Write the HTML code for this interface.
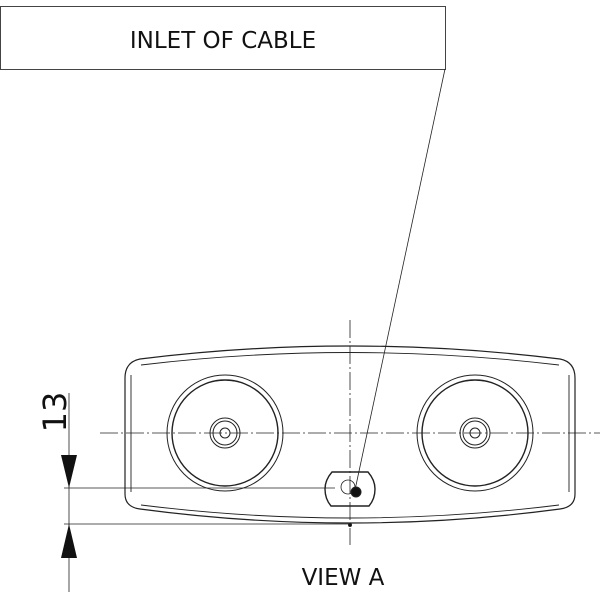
<!DOCTYPE html>
<html><head><style>body{margin:0;background:#fff}svg{display:block}</style></head><body>
<svg width="600" height="600" viewBox="0 0 600 600" xmlns="http://www.w3.org/2000/svg" fill="none" stroke="#222" font-family="'DejaVu Sans','Liberation Sans',sans-serif">
<rect x="0.5" y="6.5" width="445" height="63" stroke="#444"/>
<text x="223" y="48" font-size="23" fill="#111" stroke="none" text-anchor="middle">INLET OF CABLE</text>
<line x1="445" y1="69" x2="355" y2="490" stroke-width="0.8"/>
<!-- body outer -->
<path d="M140 359 Q350 333 560 359 Q575 362 575 378 L575 494 Q575 507 560 509 Q350 537 140 509 Q125 507 125 494 L125 378 Q125 362 140 359 Z" stroke-width="1.2"/>
<path d="M141 365 Q350 340 559 365 M141 505 Q350 531 559 505 M131 375 L131 492 M569 375 L569 492" stroke-width="0.9"/>
<!-- centerlines -->
<line x1="350" y1="320" x2="350" y2="545" stroke-width="0.8" stroke-dasharray="18 3 2 3"/>
<line x1="100" y1="433" x2="600" y2="433" stroke-width="0.8" stroke-dasharray="18 3 2 3"/>
<!-- circles -->
<g stroke-width="1">
<circle cx="225" cy="433" r="58"/><circle cx="225" cy="433" r="53" stroke-width="1.4"/>
<circle cx="225" cy="433" r="15"/><circle cx="225" cy="433" r="12"/><circle cx="225" cy="433" r="5"/>
<circle cx="475" cy="433" r="58"/><circle cx="475" cy="433" r="53" stroke-width="1.4"/>
<circle cx="475" cy="433" r="15"/><circle cx="475" cy="433" r="12"/><circle cx="475" cy="433" r="5"/>
</g>
<!-- slot -->
<path d="M332 472 L368 472 Q375 480 375 489 Q375 499 369 506 L331 506 Q325 499 325 489 Q325 480 332 472 Z" stroke-width="1.4"/>
<circle cx="348" cy="487" r="7" stroke-width="0.8"/>
<circle cx="356" cy="492" r="5" fill="#111"/>
<circle cx="350" cy="525" r="1.5" fill="#111"/>
<!-- dimension -->
<line x1="64" y1="488" x2="335" y2="488" stroke-width="0.8"/>
<line x1="64" y1="524" x2="350" y2="524" stroke-width="0.8"/>
<line x1="69" y1="393" x2="69" y2="592" stroke-width="0.8"/>
<polygon points="61,455 77,455 69,488" fill="#111" stroke="none"/>
<polygon points="61,558 77,558 69,524" fill="#111" stroke="none"/>
<text transform="translate(66,412) rotate(-90)" font-size="32" fill="#111" stroke="none" text-anchor="middle">13</text>
<text x="343" y="585" font-size="23" fill="#111" stroke="none" text-anchor="middle">VIEW A</text>
</svg>
</body></html>
